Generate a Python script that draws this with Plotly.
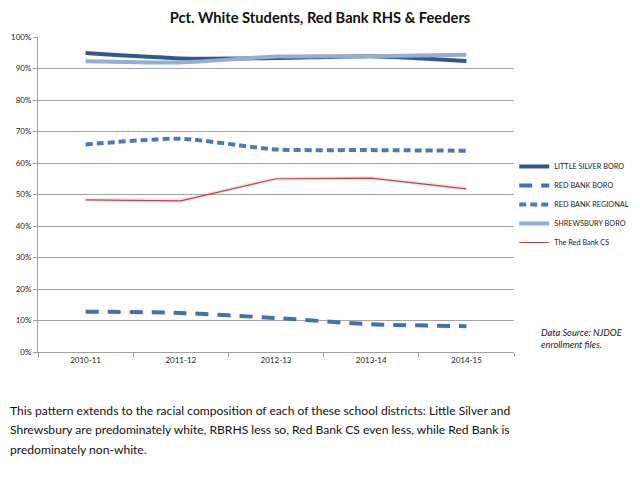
import plotly.graph_objects as go

years = ["2010-11", "2011-12", "2012-13", "2013-14", "2014-15"]

little_silver = [94.9, 93.2, 93.3, 93.9, 92.4]
red_bank_boro = [12.8, 12.4, 10.8, 8.8, 8.2]
red_bank_regional = [65.9, 67.7, 64.3, 64.1, 63.9]
shrewsbury = [92.3, 91.9, 93.8, 93.9, 94.4]
red_bank_cs = [48.3, 48.0, 55.0, 55.2, 51.8]

y_ticks = list(range(0, 101, 10))
y_labels = [f"{v}%" for v in y_ticks]

note_lines = [
    "This pattern extends to the racial composition of each of these school districts: Little Silver and",
    "Shrewsbury are predominately white, RBRHS less so, Red Bank CS even less, while Red Bank is",
    "predominately non-white.",
]

FONT = "Lato"

fig = go.Figure()

fig.add_trace(go.Scatter(
    x=years, y=little_silver, name="LITTLE SILVER BORO", mode="lines",
    line=dict(color="#34578b", width=4, shape="spline", smoothing=0.6),
))
fig.add_trace(go.Scatter(
    x=years, y=red_bank_boro, name="RED BANK BORO", mode="lines",
    line=dict(color="#4272ad", width=4, dash="13px,9px", shape="spline", smoothing=0.6),
))
fig.add_trace(go.Scatter(
    x=years, y=red_bank_regional, name="RED BANK REGIONAL", mode="lines",
    line=dict(color="#4a7bb8", width=4, dash="7px,4px", shape="spline", smoothing=0.6),
))
fig.add_trace(go.Scatter(
    x=years, y=shrewsbury, name="SHREWSBURY BORO", mode="lines",
    line=dict(color="#93aed4", width=4, shape="spline", smoothing=0.6),
))
# soft shadow under the thin red line
fig.add_trace(go.Scatter(
    x=years, y=red_bank_cs, mode="lines", showlegend=False, hoverinfo="skip",
    line=dict(color="rgba(192,80,77,0.15)", width=4),
))
fig.add_trace(go.Scatter(
    x=years, y=red_bank_cs, name="The Red Bank CS", mode="lines",
    line=dict(color="#b9474a", width=1.2),
))

fig.update_layout(
    width=640, height=480,
    margin=dict(l=30, r=134, t=29, b=136, autoexpand=False),
    paper_bgcolor="white", plot_bgcolor="white",
    font=dict(family=FONT, color="#222222"),
    title=dict(
        text="<b>Pct. White Students, Red Bank RHS & Feeders</b>",
        x=0.4875, xanchor="center", y=0.9785, yanchor="middle",
        xref="container", yref="container",
        font=dict(family=FONT, size=14.7, color="#111111"),
    ),
    legend=dict(
        xref="container", yref="container",
        x=0.791, xanchor="left", y=0.70, yanchor="top",
        font=dict(family=FONT, size=7.3, color="#222222"),
        tracegroupgap=0, itemwidth=30, bgcolor="rgba(0,0,0,0)",
    ),
    showlegend=True,
)

fig.update_xaxes(
    type="category", tickson="boundaries", ticks="outside", ticklen=4,
    tickcolor="#a0a0a0", showline=True, linecolor="#a0a0a0", linewidth=1,
    showgrid=False, tickfont=dict(family=FONT, size=8, color="#222222"),
    range=[-0.5, 4.5], automargin=False,
)
fig.update_yaxes(
    range=[0, 100], tickvals=y_ticks, ticktext=y_labels,
    ticks="outside", ticklen=4, tickcolor="#a0a0a0",
    showline=True, linecolor="#a0a0a0", linewidth=1,
    showgrid=True, gridcolor="#a6a6a6", gridwidth=1,
    zeroline=False, tickfont=dict(family=FONT, size=8, color="#222222"),
    automargin=False,
)

fig.add_annotation(
    text="<i>Data Source: NJDOE<br>enrollment files.</i>",
    xref="paper", yref="paper", x=1.0525, y=0.042, xanchor="left", yanchor="middle",
    showarrow=False, align="left",
    font=dict(family=FONT, size=9.3, color="#222222"),
)
for i, line in enumerate(note_lines):
    fig.add_annotation(
        text=line, xref="paper", yref="paper",
        x=-0.063, y=-0.187 - i * 0.0605, xanchor="left", yanchor="middle",
        showarrow=False, align="left",
        font=dict(family=FONT, size=12.1, color="#111111"),
    )

fig.write_html("out.html")
